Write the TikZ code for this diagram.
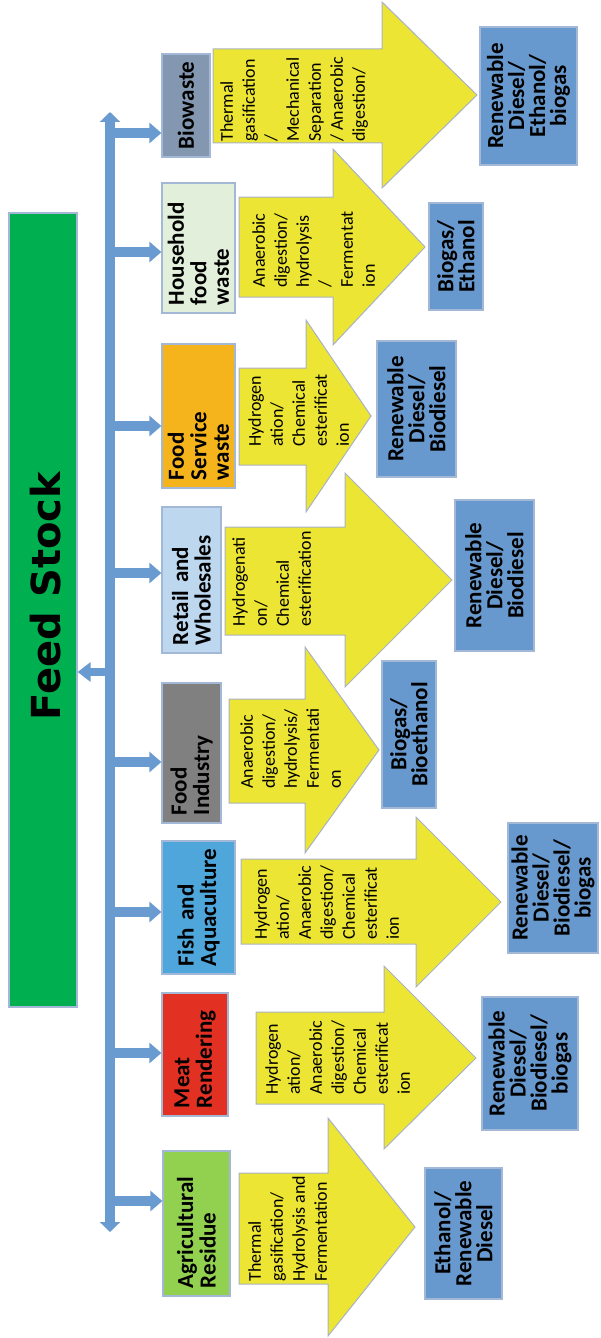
\documentclass[tikz,border=0pt]{standalone}
\usepackage{fontspec}
\setmainfont{Carlito}
\newfontfamily\headfont{DejaVu Sans}
\usepackage{tikz}
\usetikzlibrary{arrows.meta}
\setlength{\lineskiplimit}{-20pt}

\definecolor{feedgreen}{HTML}{00B050}
\definecolor{busblue}{HTML}{6A9BD0}
\definecolor{outblue}{HTML}{6899CE}
\definecolor{procyellow}{HTML}{ECE534}
\definecolor{procedge}{HTML}{A9B2C4}
\definecolor{boxedge}{HTML}{A3B8D6}
\definecolor{bioC}{HTML}{8497B0}
\definecolor{houseC}{HTML}{E2EFDA}
\definecolor{servC}{HTML}{F6B41C}
\definecolor{retailC}{HTML}{BDD7EE}
\definecolor{indusC}{HTML}{808080}
\definecolor{fishC}{HTML}{4EA6DA}
\definecolor{meatC}{HTML}{E23022}
\definecolor{agriC}{HTML}{92D050}

\begin{document}
\begin{tikzpicture}[x=0.5pt, y=-0.5pt,
    srcbox/.style={draw=boxedge, line width=0.6pt, rotate=90, inner xsep=4pt, inner ysep=0pt, align=left,
        font=\fontsize{11.5}{11.25}\selectfont\bfseries},
    prodbox/.style={draw=boxedge, fill=outblue, line width=0.6pt, rotate=90, inner xsep=3pt, inner ysep=0pt, align=center,
        font=\fontsize{11.5}{10.5}\selectfont\bfseries},
    procarrow/.style={fill=procyellow, draw=procedge, line width=0.5pt},
    proctext/.style={rotate=90, anchor=north west, inner sep=0pt, align=left,
        font=\fontsize{9}{11}\selectfont},
    branch/.style={busblue, line width=5pt, -{Triangle[width=10pt,length=6pt]}}]
    \useasboundingbox (0,0) rectangle (600,1338);

    % Feed stock bar and the bus
    \node[fill=feedgreen, draw=boxedge, line width=0.6pt, minimum width=34pt, minimum height=397pt, inner sep=0pt] (feed) at (43,610) {};
    \node[rotate=90, font=\headfont\bfseries\fontsize{20}{24}\selectfont] (feedtxt) at (46,596) {Feed Stock};
    \coordinate (bustop) at (110,112);
    \coordinate (busbot) at (110,1232);
    \draw[busblue, line width=5pt, {Triangle[width=10pt,length=5pt]}-{Triangle[width=10pt,length=5pt]}] (busbot) -- (bustop);
    \coordinate (back) at (105,672);
    \draw[busblue, line width=4pt, -{Triangle[width=9.5pt,length=6.5pt]}] (back) -- (back -| feed.east);

    % Feedstock sources
    \node[srcbox, fill=bioC, minimum width=51.5pt, minimum height=24pt, text width=43.5pt] (bio) at (186,105.5) {Biowaste};
    \node[srcbox, fill=houseC, minimum width=65pt, minimum height=36.5pt, text width=57pt] (house) at (198.5,248) {Household\\food\\waste};
    \node[srcbox, fill=servC, minimum width=72pt, minimum height=36.5pt, text width=64pt] (serv) at (198.5,416) {Food\\Service\\waste};
    \node[srcbox, fill=retailC, minimum width=73pt, minimum height=29.5pt, text width=65pt] (retail) at (191.5,580) {Retail and\\Wholesales};
    \node[srcbox, fill=indusC, minimum width=70pt, minimum height=29.5pt, text width=62pt] (indus) at (191.5,753) {Food\\Industry};
    \node[srcbox, fill=fishC, minimum width=66.5pt, minimum height=36.5pt, text width=58.5pt] (fish) at (198.5,907.5) {Fish and\\Aquaculture};
    \node[srcbox, fill=meatC, minimum width=61.5pt, minimum height=33pt, text width=53.5pt] (meat) at (195,1054.5) {Meat\\Rendering};
    \node[srcbox, fill=agriC, minimum width=72.5pt, minimum height=33.5pt, text width=64.5pt] (agri) at (196.5,1223.5) {Agricultural\\Residue};

    % Branches from the bus
    \coordinate (b1) at (115,133);
    \coordinate (b2) at (115,252);
    \coordinate (b3) at (115,426);
    \coordinate (b4) at (115,573);
    \coordinate (b5) at (115,762);
    \coordinate (b6) at (115,912);
    \coordinate (b7) at (115,1053);
    \coordinate (b8) at (115,1201);
    \draw[branch] (b1) -- (b1 -| bio.north);
    \draw[branch] (b2) -- (b2 -| house.north);
    \draw[branch] (b3) -- (b3 -| serv.north);
    \draw[branch] (b4) -- (b4 -| retail.north);
    \draw[branch] (b5) -- (b5 -| indus.north);
    \draw[branch] (b6) -- (b6 -| fish.north);
    \draw[branch] (b7) -- (b7 -| meat.north);
    \draw[branch] (b8) -- (b8 -| agri.north);

    % Conversion routes (block arrows)
    \draw[procarrow] (213,49) -- (382,49) -- (382,2) -- (477,95) -- (382,188) -- (382,143) -- (213,143) -- cycle;
    \draw[procarrow] (239,197) -- (333,197) -- (333,149) -- (425,247) -- (333,345) -- (333,297) -- (239,297) -- cycle;
    \draw[procarrow] (239,368) -- (306,368) -- (306,320) -- (371,416) -- (306,512) -- (306,465) -- (239,465) -- cycle;
    \draw[procarrow] (225,527) -- (345,527) -- (345,473) -- (452,580) -- (345,687) -- (345,635) -- (225,635) -- cycle;
    \draw[procarrow] (229,699) -- (305,699) -- (305,647) -- (379,750) -- (305,853) -- (305,803) -- (229,803) -- cycle;
    \draw[procarrow] (241,859) -- (416,859) -- (416,817) -- (501,902) -- (416,987) -- (416,944) -- (241,944) -- cycle;
    \draw[procarrow] (256,1012) -- (384,1012) -- (384,966) -- (476,1058) -- (384,1149) -- (384,1104) -- (256,1104) -- cycle;
    \draw[procarrow] (239,1173) -- (328,1173) -- (328,1118) -- (415,1227) -- (328,1336) -- (328,1284) -- (239,1284) -- cycle;

    \node[proctext] (biotxt) at (220,142) {Thermal\\gasification\\/\\Mechanical\\Separation\\/ Anaerobic\\digestion/};
    \node[proctext] (housetxt) at (252,288) {Anaerobic\\digestion/\\hydrolysis\\/\\Fermentat\\ion};
    \node[proctext] (servtxt) at (248,447) {Hydrogen\\ation/\\Chemical\\esterificat\\ion};
    \node[proctext] (retailtxt) at (232,627) {Hydrogenati\\on/\\Chemical\\esterification};
    \node[proctext] (industxt) at (240,789) {Anaerobic\\digestion/\\hydrolysis/\\Fermentati\\on};
    \node[proctext] (fishtxt) at (254,940) {Hydrogen\\ation/\\Anaerobic\\digestion/\\Chemical\\esterificat\\ion};
    \node[proctext] (meattxt) at (265,1095) {Hydrogen\\ation/\\Anaerobic\\digestion/\\Chemical\\esterificat\\ion};
    \node[proctext] (agritxt) at (248,1282) {Thermal\\gasification/\\Hydrolysis and\\Fermentation};

    % Products
    \node[prodbox, minimum width=69pt, minimum height=48.5pt, text width=63pt] (bioout) at (528.5,96) {Renewable\\Diesel/\\Ethanol/\\biogas};
    \node[prodbox, minimum width=53.5pt, minimum height=27pt, text width=47.5pt] (houseout) at (456,256.5) {Biogas/\\Ethanol};
    \node[prodbox, minimum width=68pt, minimum height=39.5pt, text width=62pt] (servout) at (416.5,409) {Renewable\\Diesel/\\Biodiesel};
    \node[prodbox, minimum width=75.5pt, minimum height=39.5pt, text width=69.5pt] (retailout) at (494.5,575.5) {Renewable\\Diesel/\\Biodiesel};
    \node[prodbox, minimum width=73.5pt, minimum height=27pt, text width=67.5pt] (indusout) at (409,734.5) {Biogas/\\Bioethanol};
    \node[prodbox, minimum width=65pt, minimum height=45pt, text width=59pt] (fishout) at (553,888) {Renewable\\Diesel/\\Biodiesel/\\biogas};
    \node[prodbox, minimum width=66.5pt, minimum height=48pt, text width=60.5pt] (meatout) at (530,1063.5) {Renewable\\Diesel/\\Biodiesel/\\biogas};
    \node[prodbox, minimum width=65.5pt, minimum height=38.5pt, text width=59.5pt] (agriout) at (463.5,1233.5) {Ethanol/\\Renewable\\Diesel};
\end{tikzpicture}
\end{document}
